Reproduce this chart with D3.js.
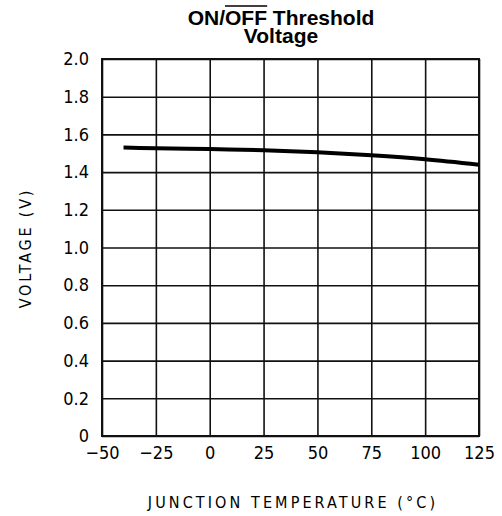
<!DOCTYPE html>
<html>
<head>
<meta charset="utf-8">
<script src="https://cdn.jsdelivr.net/npm/d3@7"></script>
<style>
  body { margin: 0; background: #fff; }
  svg { display: block; }
</style>
</head>
<body>
<div id="chart"></div>
<script>
// junction temperature (°C) and on/off threshold voltage (V)
const temps = [-40, -25, 0, 25, 50, 75, 100, 125]
const volts = [1.530, 1.527, 1.522, 1.516, 1.505, 1.489, 1.468, 1.439]

const xTicks = [-50, -25, 0, 25, 50, 75, 100, 125]
const yTicks = [0, 0.2, 0.4, 0.6, 0.8, 1.0, 1.2, 1.4, 1.6, 1.8, 2.0]

const W = 502, H = 516
const m = {top: 59, right: 23, bottom: 80, left: 102}
const w = W - m.left - m.right
const h = H - m.top - m.bottom
const tickFont = "DejaVu Sans Condensed, DejaVu Sans, sans-serif"

const svg = d3.select("#chart").append("svg")
    .attr("width", W)
    .attr("height", H)

const x = d3.scaleLinear().domain([-50, 125]).range([0, w])
const y = d3.scaleLinear().domain([0, 2]).range([h, 0])

const g = svg.append("g").attr("transform", `translate(${m.left},${m.top})`)

// grid + tick labels
const fmtX = d => d < 0 ? "\u2212" + Math.abs(d) : String(d)
const fmtY = d => d === 0 ? "0" : d3.format(".1f")(d)

const xAxis = g.append("g")
    .attr("transform", `translate(0,${h})`)
    .call(d3.axisBottom(x).tickValues(xTicks).tickSize(-h).tickPadding(10).tickFormat(fmtX))
const yAxis = g.append("g")
    .call(d3.axisLeft(y).tickValues(yTicks).tickSize(-w).tickPadding(13).tickFormat(fmtY))

;[xAxis, yAxis].forEach(a => {
    a.attr("font-family", tickFont).attr("font-size", 18)
    a.select(".domain").remove()
    a.selectAll(".tick line").attr("stroke", "#111").attr("stroke-width", 1.6)
    a.selectAll(".tick text").attr("fill", "#000")
})
xAxis.selectAll(".tick text").attr("dy", "0.71em")

g.append("rect")
    .attr("width", w)
    .attr("height", h)
    .attr("fill", "none")
    .attr("stroke", "#111")
    .attr("stroke-width", 2)

// curve
const line = d3.line()
    .x((d, i) => x(temps[i]))
    .y(d => y(d))
    .curve(d3.curveMonotoneX)

g.append("path")
    .datum(volts)
    .attr("d", line)
    .attr("fill", "none")
    .attr("stroke", "#000")
    .attr("stroke-width", 4)

// axis titles
svg.append("text")
    .attr("x", 293)
    .attr("y", 508)
    .attr("text-anchor", "middle")
    .attr("font-family", tickFont)
    .attr("font-size", 16)
    .attr("letter-spacing", 3.1)
    .text("JUNCTION TEMPERATURE (\u00b0C)")

svg.append("text")
    .attr("transform", "translate(31,248) rotate(-90)")
    .attr("text-anchor", "middle")
    .attr("font-family", tickFont)
    .attr("font-size", 16)
    .attr("letter-spacing", 2.8)
    .text("VOLTAGE (V)")

// title, two lines in one text element
const title = svg.append("text")
    .attr("y", 25)
    .attr("text-anchor", "middle")
    .attr("font-family", "Liberation Sans, Arial, sans-serif")
    .attr("font-weight", "bold")
    .attr("font-size", 21)
const l1 = title.append("tspan").attr("x", 281)
l1.append("tspan").text("ON/")
l1.append("tspan").attr("id", "off").text("OFF")
l1.append("tspan").text(" Threshold")
title.append("tspan").attr("x", 281).attr("dy", 18).text("Voltage")

// overline above OFF
const bb = document.getElementById("off").getBBox()
svg.append("line")
    .attr("x1", bb.x)
    .attr("x2", bb.x + bb.width)
    .attr("y1", 6)
    .attr("y2", 6)
    .attr("stroke", "#000")
    .attr("stroke-width", 1.6)
</script>
</body>
</html>
